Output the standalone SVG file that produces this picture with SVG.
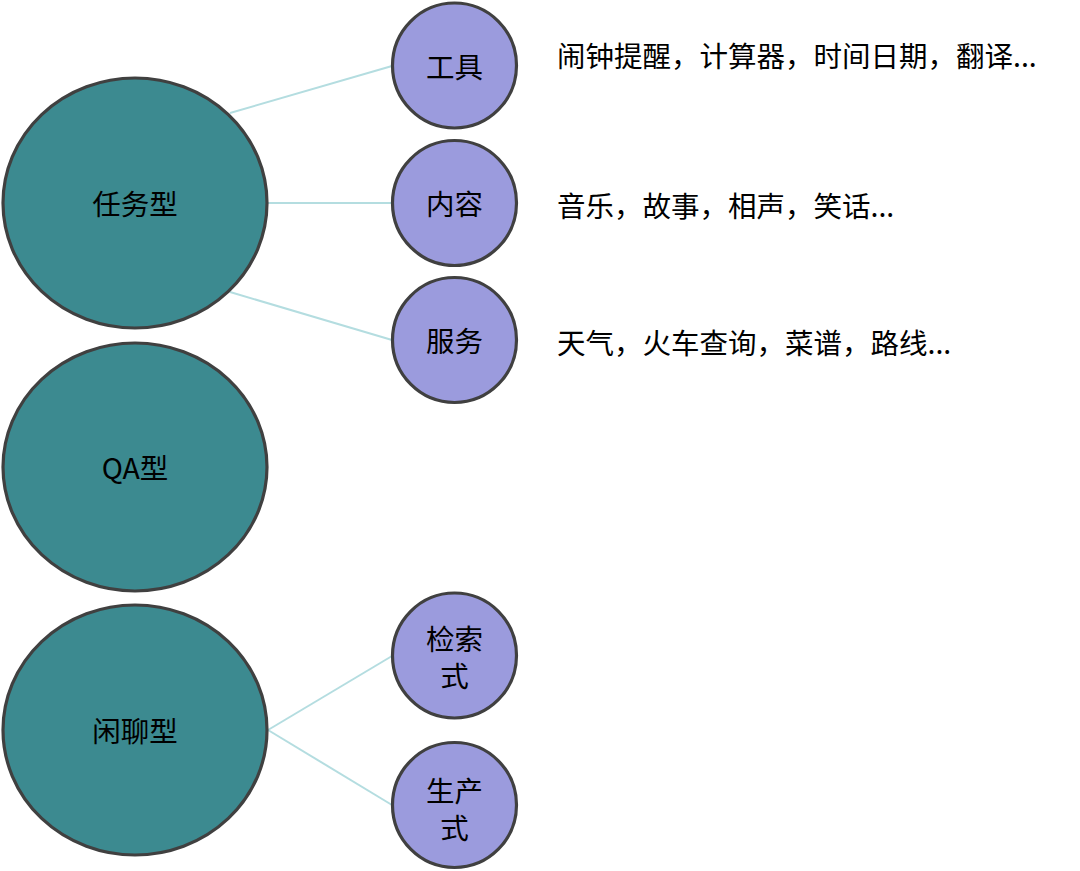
<svg xmlns="http://www.w3.org/2000/svg" width="1080" height="871" viewBox="0 0 1080 871">
<style>
.big{fill:#3C8A90;stroke:#404040;stroke-width:3.2}
.small{fill:#9B9BDD;stroke:#404040;stroke-width:3.2}
.conn{stroke:#B4DDE0;stroke-width:2;fill:none}
text{font-family:"Noto Sans CJK SC","Microsoft YaHei",sans-serif;font-size:28.5px;fill:#000;dominant-baseline:central}
.c{text-anchor:middle}
</style>
<rect width="1080" height="871" fill="#fff"/>
<g id="connectors">
<line class="conn" x1="230" y1="113" x2="392" y2="66"/>
<line class="conn" x1="268" y1="203" x2="392" y2="203"/>
<line class="conn" x1="230" y1="292" x2="392" y2="340"/>
<line class="conn" x1="268" y1="730" x2="392" y2="656"/>
<line class="conn" x1="268" y1="730" x2="392" y2="805"/>
</g>
<g id="n-renwu"><ellipse class="big" cx="135" cy="203" rx="132" ry="125"/><text class="c" x="135" y="202">任务型</text></g>
<g id="n-qa"><ellipse class="big" cx="135" cy="467" rx="132" ry="124"/><text class="c" x="135" y="466">QA型</text></g>
<g id="n-xianliao"><ellipse class="big" cx="135" cy="730" rx="132" ry="125"/><text class="c" x="135" y="729">闲聊型</text></g>
<g id="n-gongju"><ellipse class="small" cx="454.5" cy="65.5" rx="62" ry="62.5"/><text class="c" x="454.5" y="65">工具</text></g>
<g id="n-neirong"><ellipse class="small" cx="454.5" cy="203" rx="62" ry="62.5"/><text class="c" x="454.5" y="202">内容</text></g>
<g id="n-fuwu"><ellipse class="small" cx="454.5" cy="340" rx="62" ry="62.5"/><text class="c" x="454.5" y="339">服务</text></g>
<g id="n-jiansuo"><ellipse class="small" cx="454.5" cy="655.5" rx="62" ry="62.5"/><text class="c" x="454.5" y="637">检索</text><text class="c" x="454.5" y="674">式</text></g>
<g id="n-shengchan"><ellipse class="small" cx="454.5" cy="805" rx="62" ry="62.5"/><text class="c" x="454.5" y="789">生产</text><text class="c" x="454.5" y="826">式</text></g>
<g id="labels">
<text x="557" y="54">闹钟提醒，计算器，时间日期，翻译...</text>
<text x="557" y="204">音乐，故事，相声，笑话...</text>
<text x="557" y="341">天气，火车查询，菜谱，路线...</text>
</g>
</svg>
